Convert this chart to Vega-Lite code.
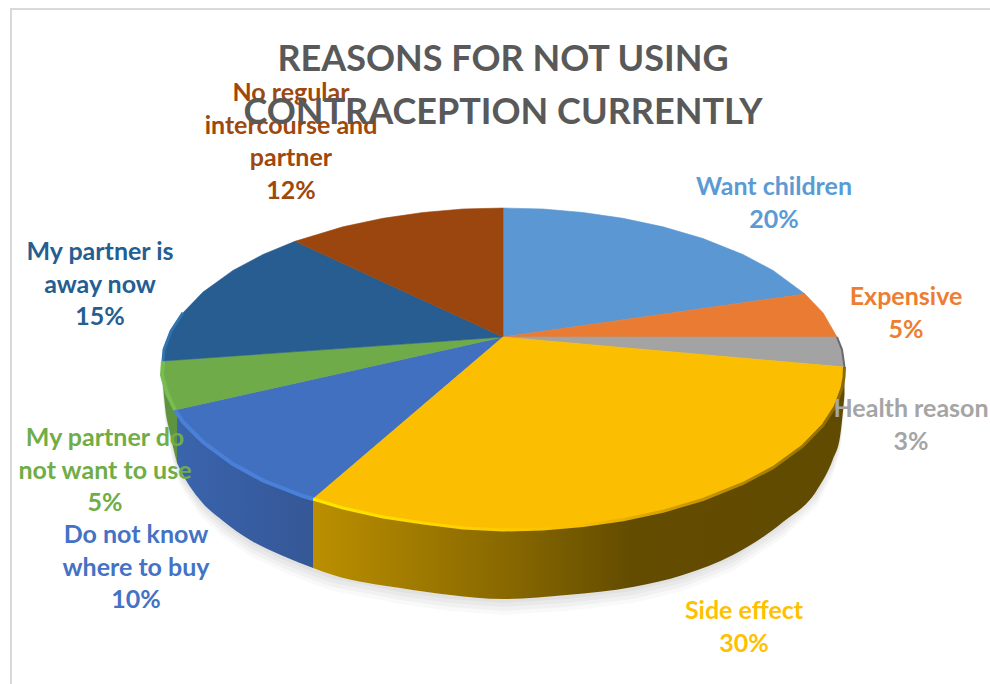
{
  "$schema": "https://vega.github.io/schema/vega-lite/v6.json",
  "width": 990,
  "height": 684,
  "padding": 0,
  "autosize": "none",
  "background": "white",
  "view": {"stroke": null},
  "title": {
    "text": ["REASONS FOR NOT USING", "CONTRACEPTION CURRENTLY"],
    "font": "Lato",
    "fontSize": 36,
    "fontWeight": "bold",
    "color": "#595959",
    "lineHeight": 53.5,
    "anchor": "middle",
    "baseline": "alphabetic",
    "offset": 0,
    "dx": 8,
    "dy": 160
  },
  "datasets": {
    "frame": [
      {"seq": 0, "x": -492, "y": -347},
      {"seq": 1, "x": -492, "y": 328},
      {"seq": 2, "x": 487, "y": 328}
    ],
    "wedges": [
      {"slice": "Want children", "seq": 0, "x": 0, "y": 0},
      {"slice": "Want children", "seq": 1, "x": 0, "y": 129},
      {"slice": "Want children", "seq": 2, "x": 40, "y": 128},
      {"slice": "Want children", "seq": 3, "x": 80, "y": 124.5},
      {"slice": "Want children", "seq": 4, "x": 120, "y": 118.7},
      {"slice": "Want children", "seq": 5, "x": 160, "y": 110.2},
      {"slice": "Want children", "seq": 6, "x": 200, "y": 98.5},
      {"slice": "Want children", "seq": 7, "x": 240, "y": 82.5},
      {"slice": "Want children", "seq": 8, "x": 270, "y": 66.6},
      {"slice": "Want children", "seq": 9, "x": 302, "y": 43},
      {"slice": "Expensive", "seq": 0, "x": 0, "y": 0},
      {"slice": "Expensive", "seq": 1, "x": 302, "y": 43},
      {"slice": "Expensive", "seq": 2, "x": 320, "y": 24.2},
      {"slice": "Expensive", "seq": 3, "x": 334, "y": 0},
      {"slice": "Health reason", "seq": 0, "x": 0, "y": 0},
      {"slice": "Health reason", "seq": 1, "x": 334, "y": 0},
      {"slice": "Health reason", "seq": 2, "x": 339, "y": -12.6},
      {"slice": "Health reason", "seq": 3, "x": 341.5, "y": -30},
      {"slice": "Do not know where to buy", "seq": 0, "x": 0, "y": 0},
      {"slice": "Do not know where to buy", "seq": 1, "x": -190, "y": -162},
      {"slice": "Do not know where to buy", "seq": 2, "x": -200, "y": -159},
      {"slice": "Do not know where to buy", "seq": 3, "x": -240, "y": -143.5},
      {"slice": "Do not know where to buy", "seq": 4, "x": -270, "y": -127},
      {"slice": "Do not know where to buy", "seq": 5, "x": -300, "y": -105},
      {"slice": "Do not know where to buy", "seq": 6, "x": -320, "y": -85},
      {"slice": "Do not know where to buy", "seq": 7, "x": -328, "y": -73},
      {"slice": "My partner do not want to use", "seq": 0, "x": 0, "y": 0},
      {"slice": "My partner do not want to use", "seq": 1, "x": -328, "y": -73},
      {"slice": "My partner do not want to use", "seq": 2, "x": -336, "y": -56},
      {"slice": "My partner do not want to use", "seq": 3, "x": -341, "y": -38},
      {"slice": "My partner do not want to use", "seq": 4, "x": -340, "y": -24},
      {"slice": "My partner is away now", "seq": 0, "x": 0, "y": 0},
      {"slice": "My partner is away now", "seq": 1, "x": -340, "y": -24},
      {"slice": "My partner is away now", "seq": 2, "x": -339, "y": -12.6},
      {"slice": "My partner is away now", "seq": 3, "x": -332, "y": 5.7},
      {"slice": "My partner is away now", "seq": 4, "x": -320, "y": 24.2},
      {"slice": "My partner is away now", "seq": 5, "x": -300, "y": 44.9},
      {"slice": "My partner is away now", "seq": 6, "x": -270, "y": 66.6},
      {"slice": "My partner is away now", "seq": 7, "x": -240, "y": 82.5},
      {"slice": "My partner is away now", "seq": 8, "x": -208, "y": 95.7},
      {"slice": "No regular intercourse and partner", "seq": 0, "x": 0, "y": 0},
      {"slice": "No regular intercourse and partner", "seq": 1, "x": -208, "y": 95.7},
      {"slice": "No regular intercourse and partner", "seq": 2, "x": -160, "y": 110.2},
      {"slice": "No regular intercourse and partner", "seq": 3, "x": -120, "y": 118.7},
      {"slice": "No regular intercourse and partner", "seq": 4, "x": -80, "y": 124.5},
      {"slice": "No regular intercourse and partner", "seq": 5, "x": -40, "y": 128},
      {"slice": "No regular intercourse and partner", "seq": 6, "x": 0, "y": 129},
      {"slice": "Side effect", "seq": 0, "x": 0, "y": 0},
      {"slice": "Side effect", "seq": 1, "x": 341.5, "y": -30},
      {"slice": "Side effect", "seq": 2, "x": 341, "y": -40},
      {"slice": "Side effect", "seq": 3, "x": 339, "y": -51.4},
      {"slice": "Side effect", "seq": 4, "x": 332, "y": -69.7},
      {"slice": "Side effect", "seq": 5, "x": 320, "y": -88.2},
      {"slice": "Side effect", "seq": 6, "x": 300, "y": -108.9},
      {"slice": "Side effect", "seq": 7, "x": 270, "y": -130.6},
      {"slice": "Side effect", "seq": 8, "x": 240, "y": -146.5},
      {"slice": "Side effect", "seq": 9, "x": 200, "y": -162.5},
      {"slice": "Side effect", "seq": 10, "x": 160, "y": -174.2},
      {"slice": "Side effect", "seq": 11, "x": 120, "y": -182.7},
      {"slice": "Side effect", "seq": 12, "x": 80, "y": -188.5},
      {"slice": "Side effect", "seq": 13, "x": 40, "y": -192},
      {"slice": "Side effect", "seq": 14, "x": 0, "y": -193},
      {"slice": "Side effect", "seq": 15, "x": -40, "y": -191},
      {"slice": "Side effect", "seq": 16, "x": -80, "y": -186},
      {"slice": "Side effect", "seq": 17, "x": -120, "y": -180},
      {"slice": "Side effect", "seq": 18, "x": -160, "y": -171},
      {"slice": "Side effect", "seq": 19, "x": -190, "y": -162}
    ],
    "rim": [
      {"slice": "My partner do not want to use", "x": -341, "top": -33, "bottom": -36},
      {"slice": "My partner do not want to use", "x": -338, "top": -48, "bottom": -70},
      {"slice": "My partner do not want to use", "x": -334, "top": -60, "bottom": -92},
      {"slice": "My partner do not want to use", "x": -330, "top": -68, "bottom": -110},
      {"slice": "My partner do not want to use", "x": -326, "top": -76, "bottom": -126},
      {"slice": "Do not know where to buy", "x": -326, "top": -76, "bottom": -126},
      {"slice": "Do not know where to buy", "x": -320, "top": -85, "bottom": -138},
      {"slice": "Do not know where to buy", "x": -303, "top": -104, "bottom": -163},
      {"slice": "Do not know where to buy", "x": -280, "top": -120, "bottom": -184},
      {"slice": "Do not know where to buy", "x": -253, "top": -137, "bottom": -203},
      {"slice": "Do not know where to buy", "x": -220, "top": -152, "bottom": -219},
      {"slice": "Do not know where to buy", "x": -190, "top": -162, "bottom": -231},
      {"slice": "Side effect", "x": -190, "top": -162, "bottom": -231},
      {"slice": "Side effect", "x": -170, "top": -168.5, "bottom": -238},
      {"slice": "Side effect", "x": -103, "top": -183, "bottom": -251},
      {"slice": "Side effect", "x": -53, "top": -189.5, "bottom": -258},
      {"slice": "Side effect", "x": 0, "top": -193, "bottom": -262},
      {"slice": "Side effect", "x": 64, "top": -190, "bottom": -258},
      {"slice": "Side effect", "x": 130, "top": -180.5, "bottom": -250},
      {"slice": "Side effect", "x": 180, "top": -168.8, "bottom": -238},
      {"slice": "Side effect", "x": 230, "top": -151, "bottom": -218},
      {"slice": "Side effect", "x": 280, "top": -124, "bottom": -185},
      {"slice": "Side effect", "x": 314, "top": -95, "bottom": -153},
      {"slice": "Side effect", "x": 330, "top": -73, "bottom": -122},
      {"slice": "Side effect", "x": 337, "top": -58, "bottom": -100},
      {"slice": "Side effect", "x": 341.5, "top": -30, "bottom": -58}
    ],
    "labels": [
      {"slice": "Want children", "share": 20, "text": "Want children\n20%", "x": 271, "y": 142},
      {"slice": "Expensive", "share": 5, "text": "Expensive\n5%", "x": 403, "y": 32},
      {"slice": "Health reason", "share": 3, "text": "Health reason\n3%", "x": 408, "y": -80},
      {"slice": "Side effect", "share": 30, "text": "Side effect\n30%", "x": 241, "y": -282},
      {"slice": "Do not know where to buy", "share": 10, "text": "Do not know\nwhere to buy\n10%", "x": -367, "y": -206},
      {"slice": "My partner do not want to use", "share": 5, "text": "My partner do\nnot want to use\n5%", "x": -398, "y": -109},
      {"slice": "My partner is away now", "share": 15, "text": "My partner is\naway now\n15%", "x": -403, "y": 77},
      {"slice": "No regular intercourse and partner", "share": 12, "text": "No regular\nintercourse and\npartner\n12%", "x": -212, "y": 236}
    ]
  },
  "encoding": {
    "x": {"field": "x", "type": "quantitative", "axis": null, "scale": {"domain": [-503, 487], "nice": false, "zero": false}},
    "y": {"field": "y", "type": "quantitative", "axis": null, "scale": {"domain": [-347, 337], "nice": false, "zero": false}}
  },
  "layer": [
    {
      "data": {"name": "frame"},
      "mark": {"type": "line", "stroke": "#d9d9d9", "strokeWidth": 2},
      "encoding": {"order": {"field": "seq"}}
    },
    {
      "data": {"name": "rim"},
      "mark": {"type": "area", "fill": "#000000", "opacity": 0.03, "y2Offset": 4},
      "encoding": {"y": {"field": "bottom", "type": "quantitative"}, "y2": {"field": "bottom"}}
    },
    {
      "data": {"name": "rim"},
      "mark": {"type": "area", "fill": "#000000", "opacity": 0.03, "y2Offset": 8},
      "encoding": {"y": {"field": "bottom", "type": "quantitative"}, "y2": {"field": "bottom"}}
    },
    {
      "data": {"name": "rim"},
      "mark": {"type": "area", "fill": "#000000", "opacity": 0.03, "y2Offset": 12},
      "encoding": {"y": {"field": "bottom", "type": "quantitative"}, "y2": {"field": "bottom"}}
    },
    {
      "data": {"name": "rim"},
      "mark": {"type": "area", "fill": "#000000", "opacity": 0.025, "y2Offset": 16},
      "encoding": {"y": {"field": "bottom", "type": "quantitative"}, "y2": {"field": "bottom"}}
    },
    {
      "data": {"name": "rim"},
      "transform": [{"filter": "datum.slice === 'My partner do not want to use'"}],
      "mark": {"type": "area", "interpolate": "monotone", "fill": "#5e9440"},
      "encoding": {"y": {"field": "top", "type": "quantitative"}, "y2": {"field": "bottom"}}
    },
    {
      "data": {"name": "rim"},
      "transform": [{"filter": "datum.slice === 'Do not know where to buy'"}],
      "mark": {
        "type": "area",
        "interpolate": "monotone",
        "fill": {
          "gradient": "linear", "x1": 0, "y1": 0, "x2": 1, "y2": 0,
          "stops": [
            {"offset": 0, "color": "#3a64ad"},
            {"offset": 1, "color": "#355796"}
          ]
        }
      },
      "encoding": {"y": {"field": "top", "type": "quantitative"}, "y2": {"field": "bottom"}}
    },
    {
      "data": {"name": "rim"},
      "transform": [{"filter": "datum.slice === 'Side effect'"}],
      "mark": {
        "type": "area",
        "interpolate": "monotone",
        "fill": {
          "gradient": "linear", "x1": 0, "y1": 0, "x2": 1, "y2": 0,
          "stops": [
            {"offset": 0, "color": "#bb8f00"},
            {"offset": 0.35, "color": "#8a6a00"},
            {"offset": 0.6, "color": "#634c00"},
            {"offset": 1, "color": "#614b00"}
          ]
        }
      },
      "encoding": {"y": {"field": "top", "type": "quantitative"}, "y2": {"field": "bottom"}}
    },
    {
      "data": {"name": "wedges"},
      "mark": {"type": "line", "filled": true, "interpolate": "linear-closed", "strokeWidth": 0.6},
      "encoding": {
        "order": {"field": "seq"},
        "fill": {
          "field": "slice",
          "type": "nominal",
          "legend": null,
          "scale": {
            "domain": ["Want children", "Expensive", "Health reason", "Side effect", "Do not know where to buy", "My partner do not want to use", "My partner is away now", "No regular intercourse and partner"],
            "range": ["#5b97d3", "#e97b32", "#a3a3a3", "#fbbe00", "#4170c0", "#6fab48", "#275d90", "#9b460e"]
          }
        },
        "stroke": {"field": "slice", "type": "nominal", "legend": null, "scale": {
            "domain": ["Want children", "Expensive", "Health reason", "Side effect", "Do not know where to buy", "My partner do not want to use", "My partner is away now", "No regular intercourse and partner"],
            "range": ["#5b97d3", "#e97b32", "#a3a3a3", "#fbbe00", "#4170c0", "#6fab48", "#275d90", "#9b460e"]
          }}
      }
    },
    {
      "data": {"name": "wedges"},
      "transform": [{"filter": "datum.slice === 'Side effect' && datum.seq > 0"}],
      "mark": {
        "type": "line",
        "strokeWidth": 3,
        "stroke": {
          "gradient": "linear", "x1": 0, "y1": 0, "x2": 1, "y2": 0,
          "stops": [
            {"offset": 0, "color": "#ffe800"},
            {"offset": 0.25, "color": "#ffd400"},
            {"offset": 0.5, "color": "#f8be00"},
            {"offset": 0.72, "color": "#c89700"},
            {"offset": 1, "color": "#8a6a00"}
          ]
        }
      },
      "encoding": {"order": {"field": "seq"}}
    },
    {
      "data": {"name": "wedges"},
      "transform": [{"filter": "datum.slice === 'Do not know where to buy' && datum.seq > 0"}],
      "mark": {"type": "line", "strokeWidth": 4, "stroke": "#4a80d8"},
      "encoding": {"order": {"field": "seq"}}
    },
    {
      "data": {"name": "wedges"},
      "transform": [{"filter": "datum.slice === 'My partner do not want to use' && datum.seq > 0"}],
      "mark": {"type": "line", "strokeWidth": 4, "stroke": "#78bd50"},
      "encoding": {"order": {"field": "seq"}}
    },
    {
      "data": {"name": "wedges"},
      "transform": [{"filter": "datum.slice === 'My partner is away now' && datum.seq > 0 && datum.seq < 5"}],
      "mark": {"type": "line", "strokeWidth": 3, "stroke": "#2f74b0"},
      "encoding": {"order": {"field": "seq"}}
    },
    {
      "data": {"name": "wedges"},
      "transform": [{"filter": "datum.slice === 'Health reason' && datum.seq > 0"}],
      "mark": {"type": "line", "strokeWidth": 2, "stroke": "#6a6a6a"},
      "encoding": {"order": {"field": "seq"}}
    },
    {
      "data": {"name": "labels"},
      "mark": {"type": "text", "font": "Lato", "fontSize": 25, "fontWeight": "bold", "align": "center", "baseline": "alphabetic", "lineBreak": "\n", "lineHeight": 32.6},
      "encoding": {
        "text": {"field": "text"},
        "fill": {"field": "slice", "type": "nominal", "legend": null, "scale": {
            "domain": ["Want children", "Expensive", "Health reason", "Side effect", "Do not know where to buy", "My partner do not want to use", "My partner is away now", "No regular intercourse and partner"],
            "range": ["#5b9bd5", "#ed7d31", "#a5a5a5", "#ffc000", "#4472c4", "#70ad47", "#255e91", "#9e480e"]
          }}
      }
    }
  ],
  "resolve": {"scale": {"fill": "independent"}}
}
